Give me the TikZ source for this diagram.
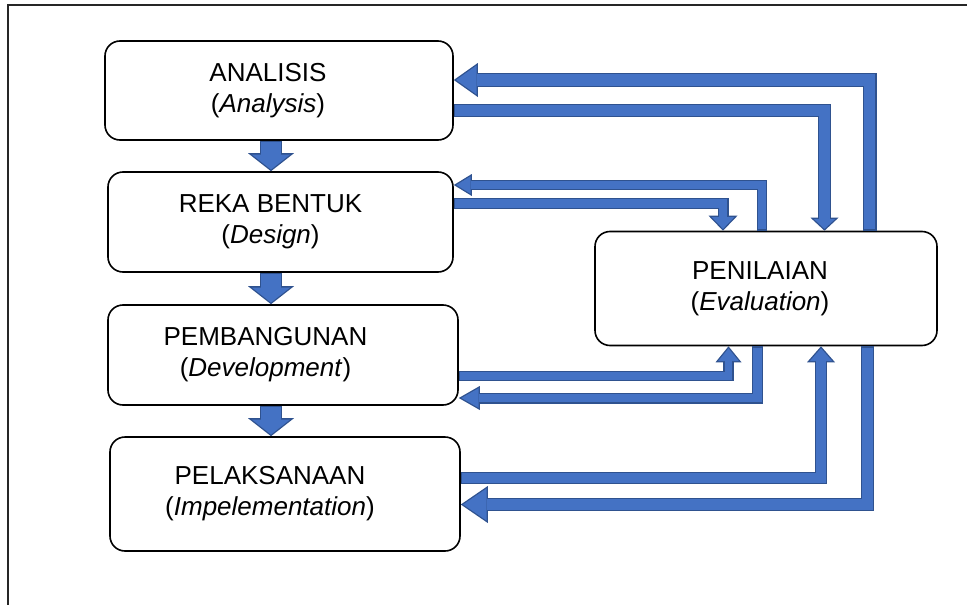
\documentclass[tikz,border=0pt]{standalone}
\usepackage{fontspec}
\setmainfont{Liberation Sans}
\usetikzlibrary{arrows.meta}

\definecolor{arrowfill}{HTML}{4472C4}
\definecolor{arrowedge}{HTML}{2F528F}
% two centred lines, pushed left by half of #1
\newcommand\stagelines[3]{#2\rule{#1}{0pt}\\#3\rule{#1}{0pt}}

\begin{document}
\begin{tikzpicture}[
  x = 1pt, y = -1pt,
  stage/.style = {
    draw, line width = 1.6pt, rounded corners = 15pt,
    align = center, font = \fontsize{26}{31}\selectfont},
  % block arrow: shaft width, head width, head length
  flow/.style n args = {3}{
    /utils/exec = {%
      \pgfmathsetmacro\flowline{#1-2.6}%
      \pgfmathsetmacro\flowsep{1.3/sin(atan((#2/2)/#3))}%
      \pgfmathsetmacro\flowlen{#3-1.3-\flowsep}%
      \pgfmathsetmacro\flowwid{\flowlen*#2/#3}},
    draw = arrowfill, line join = miter, line width = \flowline pt,
    shorten > = \flowsep pt, shorten < = 1.3pt,
    -{Triangle[width=\flowwid pt, length=\flowlen pt, line width=0pt]},
    preaction = {draw = arrowedge, line width = #1pt,
      shorten > = 0pt, shorten < = 0pt,
      -{Triangle[width=#2pt, length=#3pt, line width=0pt]}}}
  ]
  \useasboundingbox (0,0) rectangle (967,605);
  \draw[line width = 1.8pt, black!85] (8.3,605) -- (8.3,4.8) -- (967,4.8);

  \node[stage, minimum width = 348pt, minimum height = 99pt] (ana) at (279,90.5)
    {\stagelines{22pt}{ANALISIS}{(\textit{Analysis})}};
  \node[stage, minimum width = 345pt, minimum height = 100pt] (rek) at (280.5,222)
    {\stagelines{20pt}{REKA BENTUK}{(\textit{Design})}};
  \node[stage, minimum width = 350pt, minimum height = 100pt] (pem) at (283,355)
    {\stagelines{35pt}{PEMBANGUNAN}{(\textit{Development})}};
  \node[stage, minimum width = 350pt, minimum height = 114pt] (pel) at (285,494)
    {\stagelines{30pt}{PELAKSANAAN}{(\textit{Impelementation})}};
  \node[stage, minimum width = 342pt, minimum height = 114pt] (pen) at (766,288.5)
    {\stagelines{12pt}{PENILAIAN}{(\textit{Evaluation})}};

  % down the stages
  \draw[flow={22}{46}{18}] (271,0 |- ana.south) -- (271,0 |- rek.north);
  \draw[flow={22}{46}{18}] (271,0 |- rek.south) -- (271,0 |- pem.north);
  \draw[flow={22}{46}{18}] (271,0 |- pem.south) -- (271,0 |- pel.north);

  % to and from the evaluation
  \draw[flow={14}{34}{24}] (869.5,0 |- pen.north) |- (ana.east |- 0,80);
  \draw[flow={13}{28}{13}] (ana.east |- 0,110.5) -| (824.5,0 |- pen.north);
  \draw[flow={10}{22}{18}] (762,0 |- pen.north) |- (rek.east |- 0,185);
  \draw[flow={11}{29}{15}] (rek.east |- 0,203.5) -| (723,0 |- pen.north);
  \draw[flow={10.5}{26}{16}] (pem.east |- 0,376) -| (728.5,0 |- pen.south);
  \draw[flow={11}{24}{21}] (757.5,0 |- pen.south) |- (pem.east |- 0,398);
  \draw[flow={12.5}{28}{16}] (pel.east |- 0,478) -| (821,0 |- pen.south);
  \draw[flow={13}{37}{27}] (867.5,0 |- pen.south) |- (pel.east |- 0,504.5);
\end{tikzpicture}
\end{document}
